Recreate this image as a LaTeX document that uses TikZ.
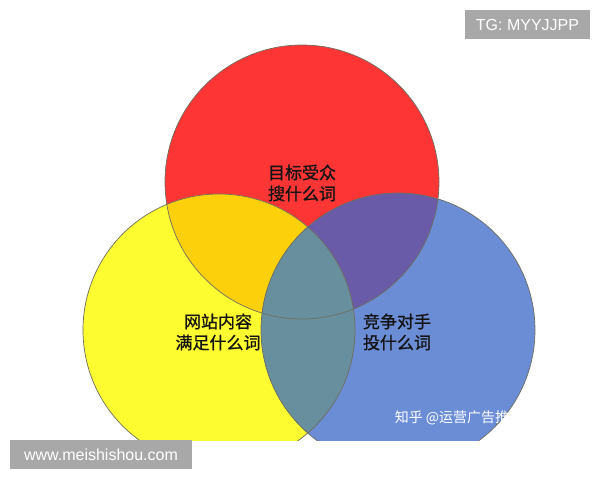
\documentclass[tikz,border=0pt]{standalone}
\usepackage{fontspec}
\setmainfont{Liberation Sans}
\setsansfont{Liberation Sans}
\newfontfamily\cjk{Noto Sans CJK SC}
\newfontfamily\cjkmed[FakeBold=0.9]{Noto Sans CJK SC}
\definecolor{cred}{HTML}{FE3535}
\definecolor{cyellow}{HTML}{FDFC30}
\definecolor{cblue}{HTML}{6B8DD6}
\definecolor{corange}{HTML}{FDD00C}
\definecolor{cpurple}{HTML}{6A5BA8}
\definecolor{cteal}{HTML}{678F9D}
\definecolor{cedge}{HTML}{6E6E60}
\definecolor{cbox}{HTML}{A8A8A8}
\definecolor{ctext}{HTML}{141414}
\tikzset{
  label/.style={font=\cjkmed\fontsize{17}{21}\selectfont, text=ctext, align=center, inner sep=0pt},
  edge/.style={draw=cedge, line width=0.7pt},
  markbox/.style={fill=cbox, text=white, font=\sffamily\fontsize{16}{16}\selectfont, inner sep=0pt, minimum height=29pt},
}
\begin{document}
\begin{tikzpicture}[x=1pt,y=-1pt]
\useasboundingbox (0,0) rectangle (600,480);
\fill[white] (0,0) rectangle (600,480);
\def\redc{(302,182) circle (137)}
\def\yelc{(219,330) circle (136)}
\def\bluc{(398,330) circle (137)}
\begin{scope}
  \clip (0,0) rectangle (600,440);
  \fill[cred] \redc;
  \fill[cyellow] \yelc;
  \fill[cblue] \bluc;
  \begin{scope}\clip \redc; \fill[corange] \yelc; \end{scope}
  \begin{scope}\clip \redc; \fill[cpurple] \bluc; \end{scope}
  \begin{scope}\clip \yelc; \fill[cteal] \bluc; \end{scope}
  \draw[edge] \redc;
  \draw[edge] \yelc;
  \draw[edge] \bluc;
\end{scope}
\node[label] (audience) at (302,183) {目标受众\\搜什么词};
\node[label] (content) at (218,332) {网站内容\\满足什么词};
\node[label] (rival) at (397,332) {竞争对手\\投什么词};
\node[font=\cjk\fontsize{14}{14}\selectfont, text=white, inner sep=0pt] (zhihu) at (459,418) {知乎 @运营广告推广};
\node[markbox, minimum width=125pt] (tg) at (527.5,24.5) {TG: MYYJJPP};
\node[markbox, minimum width=182pt] (site) at (101,454.5) {www.meishishou.com};
\end{tikzpicture}
\end{document}
